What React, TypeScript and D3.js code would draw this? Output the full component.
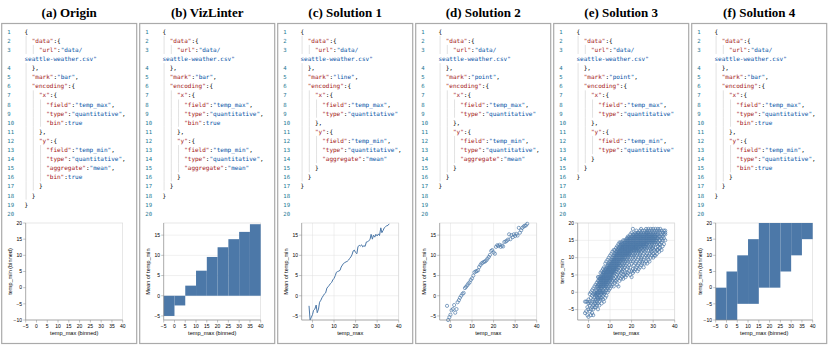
import React from 'react';
import * as d3 from 'd3';

const W = 830;
const H = 347;
const BLUE = '#4c78a8';
const KEY = '#a31515';
const STR = '#0451a5';
const LINE_NO = '#237893';
const MONO = '"DejaVu Sans Mono", "Liberation Mono", monospace';
const SANS = '"Liberation Sans", Arial, sans-serif';
const SERIF = '"Liberation Serif", "Times New Roman", serif';

const panelTitles = ['(a) Origin', '(b) VizLinter', '(c) Solution 1', '(d) Solution 2', '(e) Solution 3', '(f) Solution 4'];
const xTitles = ['temp_max (binned)', 'temp_max (binned)', 'temp_max', 'temp_max', 'temp_max', 'temp_max (binned)'];
const yTitles = ['temp_min (binned)', 'Mean of temp_min', 'Mean of temp_min', 'Mean of temp_min', 'temp_min', 'temp_min (binned)'];

// "~" marks a wrapped row that gets no line number
const codeOrigin = [
  '{', '  "data":{', '    "url":"data/', '~seattle-weather.csv"', '  },', '  "mark":"bar",', '  "encoding":{',
  '    "x":{', '      "field":"temp_max",', '      "type":"quantitative",', '      "bin":true', '    },',
  '    "y":{', '      "field":"temp_min",', '      "type":"quantitative",', '      "aggregate":"mean",',
  '      "bin":true', '    }', '  }', '}',
];
const codeLinter = [
  '{', '  "data":{', '    "url":"data/', '~seattle-weather.csv"', '  },', '  "mark":"bar",', '  "encoding":{',
  '    "x":{', '      "field":"temp_max",', '      "type":"quantitative",', '      "bin":true', '    },',
  '    "y":{', '      "field":"temp_min",', '      "type":"quantitative",', '      "aggregate":"mean"',
  '    }', '  }', '}',
];
const codeSol1 = [
  '{', '  "data":{', '    "url":"data/', '~seattle-weather.csv"', '  },', '  "mark":"line",', '  "encoding":{',
  '    "x":{', '      "field":"temp_max",', '      "type":"quantitative"', '    },',
  '    "y":{', '      "field":"temp_min",', '      "type":"quantitative",', '      "aggregate":"mean"',
  '    }', '  }', '}',
];
const codeSol2 = [
  '{', '  "data":{', '    "url":"data/', '~seattle-weather.csv"', '  },', '  "mark":"point",', '  "encoding":{',
  '    "x":{', '      "field":"temp_max",', '      "type":"quantitative"', '    },',
  '    "y":{', '      "field":"temp_min",', '      "type":"quantitative",', '      "aggregate":"mean"',
  '    }', '  }', '}',
];
const codeSol3 = [
  '{', '  "data":{', '    "url":"data/', '~seattle-weather.csv"', '  },', '  "mark":"point",', '  "encoding":{',
  '    "x":{', '      "field":"temp_max",', '      "type":"quantitative"', '    },',
  '    "y":{', '      "field":"temp_min",', '      "type":"quantitative"', '    }', '  }', '}',
];
const codeSol4 = [
  '{', '  "data":{', '    "url":"data/', '~seattle-weather.csv"', '  },', '  "mark":"bar",', '  "encoding":{',
  '    "x":{', '      "field":"temp_max",', '      "type":"quantitative",', '      "bin":true', '    },',
  '    "y":{', '      "field":"temp_min",', '      "type":"quantitative",', '      "bin":true',
  '    }', '  }', '}',
];
const codes = [codeOrigin, codeLinter, codeSol1, codeSol2, codeSol3, codeSol4];

// binned temp_max (step 5)
const binStarts = [-5, 0, 5, 10, 15, 20, 25, 30, 35];
const meanMinByBin = [-5.0, -2.4, 2.5, 6.2, 9.6, 12.0, 14.0, 15.8, 17.7];
// 2D bins present in (f): temp_min bin range per temp_max bin
const cellLow = [-10, -10, -5, -5, 0, 0, 5, 10, 15];
const cellHigh = [0, 5, 10, 15, 20, 20, 20, 20, 20];

// mean temp_min per distinct temp_max
const tempMaxValues = [
  -1.6, -1.1, -0.5, 0.0, 0.5, 1.1, 1.7, 2.2, 2.8, 3.3, 3.9, 4.4, 5.0, 5.6, 6.1, 6.7, 7.2, 7.8, 8.3, 8.9,
  9.4, 10.0, 10.6, 11.1, 11.7, 12.2, 12.8, 13.3, 13.9, 14.4, 15.0, 15.6, 16.1, 16.7, 17.2, 17.8, 18.3, 18.9,
  19.4, 20.0, 20.6, 21.1, 21.7, 22.2, 22.8, 23.3, 23.9, 24.4, 25.0, 25.6, 26.1, 26.7, 27.2, 27.8, 28.3, 28.9,
  29.4, 30.0, 30.6, 31.1, 31.7, 32.2, 32.8, 33.3, 33.9, 34.4, 35.0, 35.6,
];
const meanMinValues = [
  -2.5, -6.0, -5.3, -4.7, -3.6, -3.3, -2.3, -4.2, -3.3, -1.6, -1.1, -0.5, 0.0, 0.5, 0.7, 1.9, 2.2, 2.6, 3.0, 3.3,
  3.9, 4.3, 5.0, 5.8, 6.0, 6.1, 6.3, 7.1, 7.6, 8.0, 8.2, 8.4, 8.5, 8.8, 9.2, 9.6, 10.1, 11.1,
  11.3, 10.7, 10.4, 12.1, 12.5, 12.3, 12.6, 12.1, 12.4, 12.2, 13.3, 13.4, 13.6, 13.9, 15.2, 14.0, 15.0, 14.5,
  15.2, 14.8, 15.3, 14.9, 16.8, 15.6, 16.2, 16.8, 17.1, 17.3, 17.4, 17.8,
];

// raw days: [temp_max, temp_min values seen at that temp_max]
const scatterCols: [number, number[]][] = [
  [-1.6, [-6.0, -2.7]], [-1.1, [-5.5, -2.7]], [-0.5, [-6.6, -4.3, -2.7]], [0.0, [-7.1, -4.9, -3.2, -2.1]],
  [0.6, [-5.5, -3.8, -2.7, -0.5]], [1.1, [-6.6, -4.9, -3.2, -1.6, 0.0]], [1.7, [-6.0, -4.3, -2.7, -1.0, 0.6]],
  [2.2, [-6.6, -4.9, -3.8, -2.1, -0.5, 1.1]], [2.8, [-4.3, -3.2, -2.7, -1.6, -0.5, 0.0, 1.7]],
  [3.3, [-4.3, -3.2, -2.1, -1.0, -0.5, 0.6, 2.2]], [3.9, [-3.8, -2.7, -1.6, -1.0, -0.5, 0.0, 0.6, 1.7, 2.8]],
  [4.4, [-4.9, -3.2, -2.1, -1.6, -0.5, 0.0, 1.1, 1.7, 2.2, 3.3, 4.4]],
  [5.0, [-3.8, -2.7, -1.6, -1.0, 0.0, 0.6, 1.1, 1.7, 2.2, 2.8, 3.3, 3.9, 4.4]],
  [5.6, [-2.1, -1.6, -0.5, 0.0, 0.6, 1.1, 1.7, 2.2, 2.8, 3.3, 3.9, 4.4, 5.6]],
  [6.1, [-3.2, -1.6, -0.5, 0.0, 1.1, 1.7, 2.2, 2.8, 3.3, 3.9, 4.4, 5.0, 6.1]],
  [6.7, [-2.1, -1.0, 0.0, 0.6, 1.7, 2.2, 2.8, 3.3, 3.9, 4.4, 5.0, 5.6, 6.7]],
  [7.2, [-2.7, -0.5, 0.0, 1.1, 1.7, 2.2, 2.8, 3.3, 3.9, 4.4, 5.0, 5.6, 6.1, 7.2]],
  [7.8, [-1.6, 0.0, 1.1, 1.7, 2.2, 2.8, 3.3, 3.9, 4.4, 5.0, 5.6, 6.1, 6.7, 8.3]],
  [8.3, [-1.0, 0.6, 1.7, 2.2, 2.8, 3.3, 3.9, 4.4, 5.0, 5.6, 6.1, 6.7, 7.2, 8.9]],
  [8.9, [0.0, 1.1, 2.2, 2.8, 3.3, 3.9, 4.4, 5.0, 5.6, 6.1, 6.7, 7.2, 7.8, 9.4]],
  [9.4, [0.6, 1.7, 2.8, 3.3, 3.9, 4.4, 5.0, 5.6, 6.1, 6.7, 7.2, 7.8, 8.3, 10.0]],
  [10.0, [1.1, 2.2, 3.3, 3.9, 4.4, 5.0, 5.6, 6.1, 6.7, 7.2, 7.8, 8.3, 8.9, 10.6]],
  [10.6, [1.7, 2.8, 3.9, 4.4, 5.0, 5.6, 6.1, 6.7, 7.2, 7.8, 8.3, 8.9, 9.4, 11.1]],
  [11.1, [2.2, 3.3, 4.4, 5.0, 5.6, 6.1, 6.7, 7.2, 7.8, 8.3, 8.9, 9.4, 10.0, 11.7]],
  [11.7, [1.7, 3.9, 5.0, 5.6, 6.1, 6.7, 7.2, 7.8, 8.3, 8.9, 9.4, 10.0, 10.6, 12.2]],
  [12.2, [2.8, 3.3, 5.6, 6.1, 6.7, 7.2, 7.8, 8.3, 8.9, 9.4, 10.0, 10.6, 11.1, 12.2]],
  [12.8, [3.3, 4.4, 6.1, 6.7, 7.2, 7.8, 8.3, 8.9, 9.4, 10.0, 10.6, 11.1, 11.7, 12.8]],
  [13.3, [2.2, 3.9, 5.0, 6.7, 7.2, 7.8, 8.3, 8.9, 9.4, 10.0, 10.6, 11.1, 11.7, 12.2, 13.3]],
  [13.9, [1.7, 4.4, 5.6, 7.2, 7.8, 8.3, 8.9, 9.4, 10.0, 10.6, 11.1, 11.7, 12.2, 12.8, 13.9]],
  [14.4, [3.3, 5.0, 6.1, 7.8, 8.3, 8.9, 9.4, 10.0, 10.6, 11.1, 11.7, 12.2, 12.8, 13.3, 14.4]],
  [15.0, [3.9, 5.6, 6.7, 7.8, 8.9, 9.4, 10.0, 10.6, 11.1, 11.7, 12.2, 12.8, 13.3, 13.9, 14.4]],
  [15.6, [4.4, 6.1, 7.2, 8.3, 9.4, 10.0, 10.6, 11.1, 11.7, 12.2, 12.8, 13.3, 13.9, 14.4]],
  [16.1, [3.9, 5.0, 6.7, 7.8, 8.9, 9.4, 10.0, 10.6, 11.1, 11.7, 12.2, 12.8, 13.3, 13.9, 15.0]],
  [16.7, [5.0, 6.1, 7.2, 8.3, 9.4, 10.0, 10.6, 11.1, 11.7, 12.2, 12.8, 13.3, 13.9, 14.4, 15.0]],
  [17.2, [4.4, 5.6, 7.8, 8.9, 10.0, 10.6, 11.1, 11.7, 12.2, 12.8, 13.3, 13.9, 14.4, 15.0]],
  [17.8, [5.0, 6.7, 8.3, 9.4, 10.6, 11.1, 11.7, 12.2, 12.8, 13.3, 13.9, 14.4, 15.0, 15.6]],
  [18.3, [5.6, 7.2, 8.9, 10.0, 10.6, 11.1, 11.7, 12.2, 12.8, 13.3, 13.9, 14.4, 15.0, 15.6, 16.1]],
  [18.9, [6.1, 7.8, 9.4, 10.6, 11.1, 11.7, 12.2, 12.8, 13.3, 13.9, 14.4, 15.0, 15.6, 16.1]],
  [19.4, [5.0, 7.2, 8.9, 10.0, 11.1, 11.7, 12.2, 12.8, 13.3, 13.9, 14.4, 15.0, 15.6, 16.7]],
  [20.0, [4.4, 6.1, 8.3, 10.6, 11.7, 12.2, 12.8, 13.3, 13.9, 14.4, 15.0, 15.6, 16.1, 17.2]],
  [20.6, [5.6, 6.7, 8.9, 10.0, 11.1, 12.2, 12.8, 13.3, 13.9, 14.4, 15.0, 15.6, 16.1, 16.7, 18.3]],
  [21.1, [6.1, 7.8, 9.4, 10.6, 11.7, 12.2, 12.8, 13.3, 13.9, 14.4, 15.0, 15.6, 16.1, 16.7]],
  [21.7, [6.7, 8.3, 10.0, 11.1, 12.2, 12.8, 13.3, 13.9, 14.4, 15.0, 15.6, 16.1, 16.7, 17.2]],
  [22.2, [7.2, 8.9, 10.6, 11.7, 12.2, 12.8, 13.3, 13.9, 14.4, 15.0, 15.6, 16.1, 16.7, 17.8]],
  [22.8, [6.1, 7.8, 9.4, 11.1, 12.2, 12.8, 13.3, 13.9, 14.4, 15.0, 15.6, 16.1, 16.7, 17.2]],
  [23.3, [6.7, 8.3, 10.0, 11.7, 12.2, 12.8, 13.3, 13.9, 14.4, 15.0, 15.6, 16.1, 16.7, 17.2]],
  [23.9, [7.2, 8.9, 10.6, 11.1, 12.2, 13.3, 13.9, 14.4, 15.0, 15.6, 16.1, 16.7, 17.8]],
  [24.4, [7.8, 9.4, 10.0, 11.7, 12.8, 13.3, 13.9, 14.4, 15.0, 15.6, 16.1, 16.7, 17.2, 18.3]],
  [25.0, [8.3, 8.9, 10.6, 12.2, 12.8, 13.3, 13.9, 14.4, 15.0, 15.6, 16.1, 16.7, 17.8]],
  [25.6, [7.2, 9.4, 11.1, 12.2, 13.3, 13.9, 14.4, 15.0, 15.6, 16.1, 16.7, 17.2]],
  [26.1, [8.3, 10.0, 11.7, 12.8, 13.3, 13.9, 14.4, 15.0, 15.6, 16.1, 16.7, 17.8]],
  [26.7, [8.9, 10.6, 12.2, 13.3, 13.9, 14.4, 15.0, 15.6, 16.1, 16.7, 17.2, 18.3]],
  [27.2, [8.3, 10.0, 11.1, 12.8, 13.9, 14.4, 15.0, 15.6, 16.1, 16.7, 17.2, 17.8]],
  [27.8, [9.4, 10.6, 12.2, 13.3, 14.4, 15.0, 15.6, 16.1, 16.7, 17.2, 18.3]],
  [28.3, [8.9, 11.1, 12.8, 13.9, 14.4, 15.0, 15.6, 16.1, 16.7, 17.8]],
  [28.9, [10.0, 11.7, 12.2, 13.3, 14.4, 15.0, 15.6, 16.1, 16.7, 17.2, 18.3]],
  [29.4, [10.6, 11.7, 12.8, 13.9, 14.4, 15.0, 15.6, 16.1, 16.7, 17.8]],
  [30.0, [10.0, 11.1, 12.8, 13.3, 14.4, 15.0, 15.6, 16.1, 16.7, 17.2, 18.3]],
  [30.6, [10.6, 12.2, 13.9, 14.4, 15.0, 15.6, 16.1, 16.7, 17.8]],
  [31.1, [10.6, 11.7, 12.8, 14.4, 15.0, 15.6, 16.1, 16.7, 17.2, 18.3]],
  [31.7, [11.1, 12.2, 13.9, 15.0, 15.6, 16.7, 17.8]], [32.2, [12.2, 13.3, 14.4, 15.6, 16.1, 16.7, 17.2, 18.3]],
  [32.8, [11.7, 12.8, 13.9, 15.0, 16.1, 17.8]], [33.3, [12.8, 13.9, 15.0, 16.1, 17.2, 18.3]],
  [33.9, [12.2, 14.4, 15.6, 16.7, 17.8]], [34.4, [13.3, 15.0, 16.1, 17.2]],
  [35.0, [13.9, 15.6, 16.7, 17.8]], [35.6, [15.0, 16.7, 17.2, 17.8]],
];

const fmt = d3.format('d');

function tokenize(text: string, cont: boolean) {
  if (cont) return [{ t: text, c: STR }];
  const parts = text.split(/("[^"]*(?:"|$))/).filter(Boolean);
  const out: { t: string; c: string }[] = [];
  parts.forEach((p, i) => {
    if (p.startsWith('"')) {
      const next = parts[i + 1] || '';
      out.push({ t: p, c: next.startsWith(':') ? KEY : STR });
    } else {
      p.split(/(true)/).filter(Boolean).forEach(q => out.push({ t: q, c: q === 'true' ? STR : '#000' }));
    }
  });
  return out;
}

function CodeBlock({ lines, bx }: { lines: string[]; bx: number }) {
  const rows: { num: number | null; cont: boolean; text: string; indent: number }[] = [];
  let num = 0;
  lines.forEach(l => {
    const cont = l.startsWith('~');
    if (!cont) num++;
    const body = cont ? l.slice(1) : l.trimStart();
    rows.push({ num: cont ? null : num, cont, text: body, indent: cont ? 0 : (l.length - body.length) / 2 });
  });
  while (num < 20) {
    num++;
    rows.push({ num, cont: false, text: '', indent: 0 });
  }
  const codeX = bx + 22.8;
  const cw = 3.61;
  return (
    <g>
      {rows.map((r, i) => {
        const base = 33.7 + i * 9.1;
        return (
          <g key={i}>
            {d3.range(r.indent).map(lv => (
              <line key={lv} x1={codeX + lv * 2 * cw + 1.6} x2={codeX + lv * 2 * cw + 1.6}
                y1={base - 7} y2={base + 2.1} stroke="#d6d6d6" strokeWidth={0.7} />
            ))}
            {r.num !== null && (
              <text x={bx + 5.6} y={base} fontFamily={MONO} fontSize={5.6} fill={LINE_NO}>{r.num}</text>
            )}
            <text x={codeX + r.indent * 2 * cw} y={base} fontFamily={MONO} fontSize={6}>
              {tokenize(r.text, r.cont).map((tk, j) => (
                <tspan key={j} fill={tk.c}>{tk.t}</tspan>
              ))}
            </text>
          </g>
        );
      })}
    </g>
  );
}

function Chart({ i, bx }: { i: number; bx: number }) {
  const pl = bx + 24;
  const pr = pl + 97;
  const pt = 223;
  const pb = 320;
  const binned = i === 0 || i === 1 || i === 5;
  const x = d3.scaleLinear().domain([-5, 40]).range([pl, pr]);
  const yDomain = i === 0 || i === 5 ? [-10, 20] : i === 4 ? [-8, 20] : [-6, 18];
  const y = d3.scaleLinear().domain(yDomain).range([pb, pt]);
  const xTicks = binned ? d3.range(-5, 41, 5) : x.ticks(5);
  const yTicks = i === 0 || i === 5 ? d3.range(-10, 21, 5) : y.ticks(5);
  const xGrid = !binned;
  const yGrid = i !== 0 && i !== 5;

  let marks: React.ReactNode = null;
  if (i === 1) {
    marks = binStarts.map((b, k) => {
      const v = meanMinByBin[k];
      return (
        <rect key={k} x={x(b)} width={x(b + 5) - x(b)} y={y(Math.max(0, v))}
          height={Math.abs(y(v) - y(0))} fill={BLUE} />
      );
    });
  } else if (i === 2) {
    const line = d3.line<number>().x((d, k) => x(tempMaxValues[k])).y(d => y(d));
    marks = <path d={line(meanMinValues) || ''} fill="none" stroke={BLUE} strokeWidth={1} />;
  } else if (i === 3) {
    marks = meanMinValues.map((v, k) => (
      <circle key={k} cx={x(tempMaxValues[k])} cy={y(v)} r={1.6} fill="none" stroke={BLUE}
        strokeWidth={0.8} strokeOpacity={0.85} />
    ));
  } else if (i === 4) {
    marks = scatterCols.flatMap(([tx, ys], k) => ys.map((v, j) => (
      <circle key={k + '-' + j} cx={x(tx)} cy={y(v)} r={1.6} fill="none" stroke={BLUE}
        strokeWidth={0.8} strokeOpacity={0.85} />
    )));
  } else if (i === 5) {
    marks = binStarts.map((b, k) => (
      <rect key={k} x={x(b)} width={x(b + 5) - x(b)} y={y(cellHigh[k])}
        height={y(cellLow[k]) - y(cellHigh[k])} fill={BLUE} />
    ));
  }

  return (
    <g fontFamily={SANS}>
      {xGrid && xTicks.map(t => (
        <line key={'gx' + t} x1={x(t)} x2={x(t)} y1={pt} y2={pb} stroke="#e0e0e0" strokeWidth={0.5} />
      ))}
      {yGrid && yTicks.map(t => (
        <line key={'gy' + t} x1={pl} x2={pr} y1={y(t)} y2={y(t)} stroke="#e0e0e0" strokeWidth={0.5} />
      ))}
      <rect x={pl} y={pt} width={pr - pl} height={pb - pt} fill="none" stroke="#d8d8d8" strokeWidth={0.6} />
      {marks}
      <line x1={pl} x2={pr} y1={pb} y2={pb} stroke="#888" strokeWidth={0.6} />
      <line x1={pl} x2={pl} y1={pt} y2={pb} stroke="#888" strokeWidth={0.6} />
      {xTicks.map(t => (
        <g key={'xt' + t}>
          <line x1={x(t)} x2={x(t)} y1={pb} y2={pb + 2.5} stroke="#888" strokeWidth={0.5} />
          <text x={x(t)} y={pb + 7.8} fontSize={5} textAnchor="middle" fill="#000">{fmt(t)}</text>
        </g>
      ))}
      {yTicks.map(t => (
        <g key={'yt' + t}>
          <line x1={pl - 2.5} x2={pl} y1={y(t)} y2={y(t)} stroke="#888" strokeWidth={0.5} />
          <text x={pl - 3.6} y={y(t) + 1.8} fontSize={5} textAnchor="end" fill="#000">{fmt(t)}</text>
        </g>
      ))}
      <text x={(pl + pr) / 2} y={pb + 15} fontSize={5.6} textAnchor="middle" fill="#000">{xTitles[i]}</text>
      <text transform={`translate(${pl - 13.5},${(pt + pb) / 2}) rotate(-90)`} fontSize={5.6}
        textAnchor="middle" fill="#000">{yTitles[i]}</text>
    </g>
  );
}

export default function App() {
  const panelLeft = 1.7;
  const panelStep = 138;
  const panelW = 135;
  return (
    <svg width={W} height={H} style={{ position: 'absolute', left: 0, top: 0, background: '#fff' }}>
      <rect width={W} height={H} fill="#fff" />
      {panelTitles.map((title, i) => {
        const bx = panelLeft + i * panelStep;
        return (
          <g key={i}>
            <text x={bx + panelW / 2} y={17.3} textAnchor="middle" fontFamily={SERIF} fontWeight="bold"
              fontSize={13}>{title}</text>
            <rect x={bx} y={23.5} width={panelW} height={320} fill="none" stroke="#aaa" strokeWidth={1.2} />
            <CodeBlock lines={codes[i]} bx={bx} />
            <Chart i={i} bx={bx} />
          </g>
        );
      })}
    </svg>
  );
}
